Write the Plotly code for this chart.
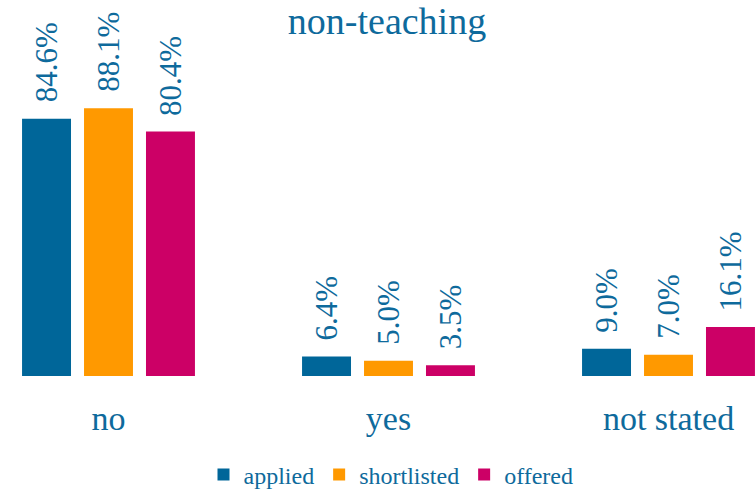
import plotly.graph_objects as go

categories = ["no", "yes", "not stated"]
series_names = ["applied", "shortlisted", "offered"]
applied = [84.6, 6.4, 9.0]
shortlisted = [88.1, 5.0, 7.0]
offered = [80.4, 3.5, 16.1]
colors = ["#006699", "#FF9900", "#CC0066"]
title_text = "non-teaching"

FONT = "Liberation Serif, Times New Roman, serif"
TXT = "#0E6A9C"
W, H = 756, 491
bargap = 0.336
bargroupgap = 0.21

fig = go.Figure()
all_series = [applied, shortlisted, offered]
for name, vals, col in zip(series_names, all_series, colors):
    fig.add_trace(go.Bar(
        name=name, x=categories, y=vals,
        marker=dict(color=col, line=dict(width=0)),
        hoverinfo="skip",
    ))

# value labels
slot = (1 - bargap) / 3
annotations = []
for j, vals in enumerate(all_series):
    for i, v in enumerate(vals):
        annotations.append(dict(
            x=i + (j - 1) * slot, y=v, xref="x", yref="y",
            text=f"{v:.1f}%", textangle=-90,
            xanchor="center", yanchor="bottom", yshift=14,
            showarrow=False,
            font=dict(family=FONT, size=31, color=TXT),
        ))

fig.update_layout(
    width=W, height=H,
    paper_bgcolor="white", plot_bgcolor="white",
    margin=dict(l=0, r=0, t=0, b=115),
    barmode="group", bargap=bargap, bargroupgap=bargroupgap,
    title=dict(text=title_text, x=387 / W, xref="container", xanchor="center",
               y=1 - 21 / H, yref="container", yanchor="middle",
               font=dict(family=FONT, size=38, color=TXT)),
    xaxis=dict(range=[-0.3875, 2.3125], showgrid=False, zeroline=False,
               showline=False, ticks="", ticklabelstandoff=19,
               tickfont=dict(family=FONT, size=34, color=TXT)),
    yaxis=dict(range=[0, 376 / 3.04], visible=False, showgrid=False),
    legend=dict(orientation="h", xref="container", yref="container",
                x=391 / W, xanchor="center", y=1 - 475 / H, yanchor="middle",
                font=dict(family=FONT, size=24, color=TXT),
                itemwidth=30, traceorder="normal"),
    annotations=annotations,
)

fig.write_html("out.html",
               config={"displayModeBar": False, "staticPlot": True},
               post_script="document.body.style.margin='0';document.body.style.overflow='hidden';")
